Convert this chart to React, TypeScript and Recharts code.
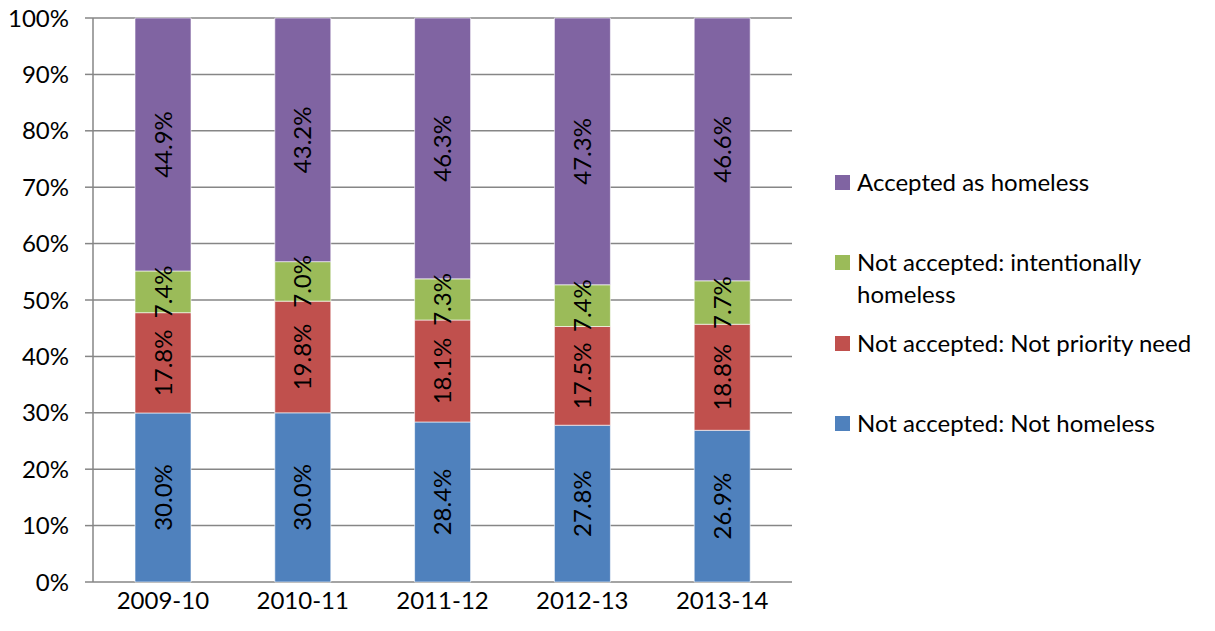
import React from "react";
import {
  BarChart,
  Bar,
  XAxis,
  YAxis,
  CartesianGrid,
  LabelList
} from "recharts";

const years = ["2009-10", "2010-11", "2011-12", "2012-13", "2013-14"];

const notHomeless = [30.0, 30.0, 28.4, 27.8, 26.9];
const notPriority = [17.8, 19.8, 18.1, 17.5, 18.8];
const intentional = [7.4, 7.0, 7.3, 7.4, 7.7];
const accepted = [44.9, 43.2, 46.3, 47.3, 46.6];

const yTicks = [0, 0.1, 0.2, 0.3, 0.4, 0.5, 0.6, 0.7, 0.8, 0.9, 1];
const boundaryTicks = [0, 1, 2, 3, 4, 5];

const series = [
  { key: "notHomeless", name: "Not accepted: Not homeless", color: "#4F81BD" },
  { key: "notPriority", name: "Not accepted: Not priority need", color: "#C0504D" },
  { key: "intentional", name: "Not accepted: intentionally homeless", color: "#9BBB59" },
  { key: "accepted", name: "Accepted as homeless", color: "#8064A2" }
];

const data = years.map((year, i) => ({
  year,
  notHomeless: notHomeless[i],
  notPriority: notPriority[i],
  intentional: intentional[i],
  accepted: accepted[i]
}));

const FONT = "Lato, 'Noto Sans', sans-serif";
const FONT_SIZE = 24;
const GREY = "#868686";

const App = () => {
  // legend lists the top series first, like the original
  const legendItems = [...series].reverse();

  return (
    <div
      style={{
        position: "absolute",
        left: 0,
        top: 0,
        width: 1215,
        height: 631,
        background: "#fff",
        fontFamily: FONT
      }}
    >
      <BarChart
        width={1215}
        height={631}
        data={data}
        stackOffset="expand"
        barSize={56}
        margin={{ top: 18, right: 423, bottom: 0, left: 0 }}
      >
        <CartesianGrid vertical={false} stroke={GREY} strokeWidth={1.5} />

        {/* tick marks between categories */}
        <XAxis
          xAxisId="edges"
          type="number"
          domain={[0, 5]}
          ticks={boundaryTicks}
          tick={false}
          height={0}
          tickSize={8}
          stroke={GREY}
          strokeWidth={1.5}
        />

        <XAxis
          xAxisId="cat"
          dataKey="year"
          height={49}
          axisLine={false}
          tickLine={false}
          tickSize={0}
          tickMargin={10}
          tick={{ fill: "#000", fontSize: FONT_SIZE, fontFamily: FONT }}
        />

        <YAxis
          width={93}
          domain={[0, 1]}
          ticks={yTicks}
          tickFormatter={(v: number) => `${Math.round(v * 100)}%`}
          tickSize={8}
          tickMargin={16}
          stroke={GREY}
          strokeWidth={1.5}
          tick={{ fill: "#000", fontSize: FONT_SIZE, fontFamily: FONT }}
        />

        {series.map((s) => (
          <Bar
            key={s.key}
            xAxisId="cat"
            dataKey={s.key}
            name={s.name}
            stackId="a"
            fill={s.color}
            stroke="#ffffff"
            strokeOpacity={0.6}
            strokeWidth={1}
            isAnimationActive={false}
          >
            <LabelList
              dataKey={s.key}
              position="center"
              angle={-90}
              formatter={(v: any) => `${Number(v).toFixed(1)}%`}
              style={{ fill: "#000", fontSize: FONT_SIZE, fontFamily: FONT }}
            />
          </Bar>
        ))}
      </BarChart>

      {/* Legend */}
      {legendItems.map((s, i) => (
        <div
          key={s.key}
          style={{
            position: "absolute",
            left: 835,
            top: 166 + i * 80.3,
            display: "flex",
            alignItems: "flex-start",
            fontSize: FONT_SIZE,
            lineHeight: "32px",
            color: "#000"
          }}
        >
          <div
            style={{
              width: 15,
              height: 15,
              background: s.color,
              marginTop: 9,
              marginRight: 7,
              flexShrink: 0
            }}
          />
          <div style={{ width: 350 }}>{s.name}</div>
        </div>
      ))}
    </div>
  );
};

export default App;
